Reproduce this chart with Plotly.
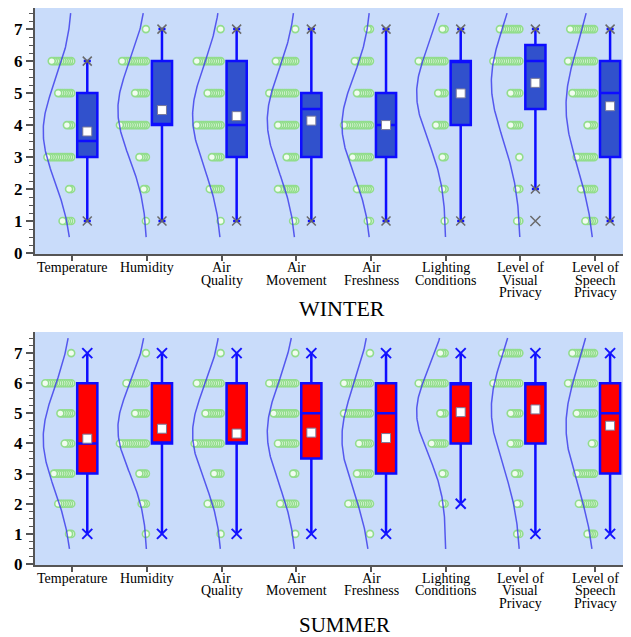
import numpy as np
import plotly.graph_objects as go

# ---------------- data ----------------
CATEGORIES = ["Temperature", "Humidity", "Air<br>Quality", "Air<br>Movement",
              "Air<br>Freshness", "Lighting<br>Conditions",
              "Level of<br>Visual<br>Privacy", "Level of<br>Speech<br>Privacy"]
LEVELS = [1, 2, 3, 4, 5, 6, 7]
Y_TICKS = [0, 1, 2, 3, 4, 5, 6, 7]

# WINTER box statistics
W_Q1 = [3, 4, 3, 3, 3, 4, 4.5, 3]
W_MEDIAN = [3.5, 4, 4, 4.5, 4, 6, 6, 5]
W_Q3 = [5, 6, 6, 5, 5, 6, 6.5, 6]
W_LOW = [1, 1, 1, 1, 1, 1, 2, 1]
W_HIGH = [6, 7, 7, 7, 7, 7, 7, 7]
W_MEAN = [3.8, 4.47, 4.28, 4.14, 4.0, 4.99, 5.32, 4.59]
W_SD = [1.55, 1.5, 1.6, 1.57, 1.5, 1.48, 1.75, 1.9]
W_OUTLIER_CAT = [6]
W_OUTLIER_VAL = [1]
# respondents per level 1..7
W_COUNTS = [
    [5, 2, 12, 3, 7, 10, 0],
    [1, 2, 4, 13, 6, 12, 1],
    [1, 6, 5, 12, 7, 12, 1],
    [2, 9, 5, 9, 13, 10, 1],
    [2, 7, 9, 13, 7, 8, 2],
    [1, 2, 2, 5, 4, 13, 2],
    [2, 2, 1, 5, 5, 13, 10],
    [5, 7, 9, 4, 11, 13, 12],
]

# SUMMER box statistics
S_Q1 = [3, 4, 4, 3.5, 3, 4, 4, 3]
S_MEDIAN = [4, 4, 4, 5, 5, 6, 6, 5]
S_Q3 = [6, 6, 6, 6, 6, 6, 6, 6]
S_LOW = [1, 1, 1, 1, 1, 2, 1, 1]
S_HIGH = [7, 7, 7, 7, 7, 7, 7, 7]
S_MEAN = [4.16, 4.49, 4.33, 4.36, 4.18, 5.04, 5.13, 4.59]
S_SD = [1.7, 1.45, 1.55, 1.68, 1.75, 1.4, 1.85, 1.95]
S_COUNTS = [
    [2, 7, 9, 4, 6, 13, 1],
    [1, 3, 4, 13, 6, 10, 1],
    [1, 7, 4, 13, 8, 12, 1],
    [1, 8, 2, 9, 11, 13, 1],
    [1, 11, 7, 6, 13, 13, 1],
    [0, 2, 2, 7, 3, 13, 3],
    [2, 2, 3, 5, 5, 13, 9],
    [4, 8, 9, 2, 9, 13, 11],
]

# ---------------- style ----------------
SERIF = "Liberation Serif"
BG = "#c9dcfa"
BOX_OFFSET = 0.2
BOX_WIDTH = 0.27
CURVE_AMP = 0.39
DOT_RIGHT = -0.015
DOT_STEP = 0.029
AXIS_COL = "#555555"

fig = go.Figure()


def add_panel(xa, ya, q1, med, q3, low, high, mean, sd, counts, fill, end_style, ybot):
    n = len(CATEGORIES)
    idx = list(range(n))
    pos = [i + BOX_OFFSET for i in idx]

    # response dots, stacked leftwards from each category tick
    dx, dy = [], []
    for i, row in enumerate(counts):
        for lev, c in zip(LEVELS, row):
            for k in range(c):
                dx.append(i + DOT_RIGHT - k * DOT_STEP)
                dy.append(lev)
    fig.add_trace(go.Scatter(
        x=dx, y=dy, mode="markers", xaxis=xa, yaxis=ya, showlegend=False,
        hoverinfo="skip",
        marker=dict(size=7, color="#f2fcf0", line=dict(color="#92dd8c", width=1.6))))

    # normal curves
    yy = np.linspace(0.5, 7.5, 141)
    for i in idx:
        xx = i - CURVE_AMP * np.exp(-0.5 * ((yy - mean[i]) / sd[i]) ** 2)
        fig.add_trace(go.Scatter(
            x=xx, y=yy, mode="lines", xaxis=xa, yaxis=ya, showlegend=False,
            hoverinfo="skip", line=dict(color="rgba(55,55,235,0.8)", width=1.5)))

    # boxes
    fig.add_trace(go.Box(
        x=pos, q1=q1, median=med, q3=q3, lowerfence=low, upperfence=high,
        width=BOX_WIDTH, xaxis=xa, yaxis=ya, showlegend=False,
        fillcolor=fill, line=dict(color="#0d0dff", width=2.5),
        whiskerwidth=0.35 if end_style == "winter" else 0.0,
        boxpoints=False, hoverinfo="skip"))

    # whisker end markers
    ex = pos + pos
    ey = list(low) + list(high)
    if end_style == "winter":
        mk = dict(symbol="x-thin", size=9, line=dict(color="#6a6a6a", width=1.5))
    else:
        mk = dict(symbol="x-thin", size=10, line=dict(color="#1414ff", width=2))
    fig.add_trace(go.Scatter(x=ex, y=ey, mode="markers", xaxis=xa, yaxis=ya,
                             showlegend=False, hoverinfo="skip", marker=mk))

    # mean markers
    fig.add_trace(go.Scatter(
        x=pos, y=mean, mode="markers", xaxis=xa, yaxis=ya, showlegend=False,
        hoverinfo="skip",
        marker=dict(symbol="square", size=9, color="white",
                    line=dict(color="#7a7a9a", width=1))))

    # category labels, one line at a time for tight spacing
    for i, lab in enumerate(CATEGORIES):
        for k, line in enumerate(lab.split("<br>")):
            fig.add_annotation(
                x=i, y=ybot, xref=xa, yref=ya, text=line, showarrow=False,
                yanchor="top", xanchor="center", yshift=-5 - 12.5 * k,
                borderpad=0,
                font=dict(family=SERIF, size=14, color="black"))


axis_common_x = dict(range=[-0.5, 7.48], tickvals=list(range(len(CATEGORIES))),
                     showticklabels=False, ticks="outside", ticklen=5,
                     tickcolor=AXIS_COL, tickwidth=1.5, showline=True,
                     linecolor=AXIS_COL, linewidth=1.5, showgrid=False,
                     zeroline=False)
axis_common_y = dict(tickvals=Y_TICKS, ticks="outside", ticklen=7, tickwidth=2,
                     tickcolor=AXIS_COL, showline=True, linecolor=AXIS_COL,
                     linewidth=2, showgrid=False, zeroline=False,
                     minor=dict(dtick=0.25, ticklen=4, tickcolor=AXIS_COL,
                                tickwidth=1, showgrid=False),
                     tickfont=dict(family=SERIF, size=17, color="black",
                                   weight="bold"))

Y1_RANGE = [-0.03, 7.66]
Y2_RANGE = [-0.033, 7.70]

fig.update_layout(
    width=623, height=629,
    margin=dict(l=27, r=0, t=0, b=72),
    paper_bgcolor="white", plot_bgcolor=BG,
    boxmode="overlay",
    xaxis=dict(domain=[0, 1], anchor="y", **axis_common_x),
    yaxis=dict(domain=[0.5583, 1], anchor="x", range=Y1_RANGE, **axis_common_y),
    xaxis2=dict(domain=[0, 1], anchor="y2", **axis_common_x),
    yaxis2=dict(domain=[0, 0.4183], anchor="x2", range=Y2_RANGE, **axis_common_y),
)

add_panel("x", "y", W_Q1, W_MEDIAN, W_Q3, W_LOW, W_HIGH, W_MEAN, W_SD,
          W_COUNTS, "#3151cc", "winter", Y1_RANGE[0])
# winter outlier
fig.add_trace(go.Scatter(
    x=[c + BOX_OFFSET for c in W_OUTLIER_CAT], y=W_OUTLIER_VAL, mode="markers",
    showlegend=False, hoverinfo="skip", xaxis="x", yaxis="y",
    marker=dict(symbol="x-thin", size=10, line=dict(color="#6a6a6a", width=1.5))))

add_panel("x2", "y2", S_Q1, S_MEDIAN, S_Q3, S_LOW, S_HIGH, S_MEAN, S_SD,
          S_COUNTS, "#ff0000", "summer", Y2_RANGE[0])

fig.add_annotation(text="WINTER", xref="paper", yref="paper", x=0.515, y=0.4614,
                   xanchor="center", yanchor="middle", showarrow=False,
                   font=dict(family=SERIF, size=22, color="black"))
fig.add_annotation(text="SUMMER", xref="paper", yref="paper", x=0.52, y=-0.1077,
                   xanchor="center", yanchor="middle", showarrow=False,
                   font=dict(family=SERIF, size=21, color="black"))

fig.write_html("out.html")
